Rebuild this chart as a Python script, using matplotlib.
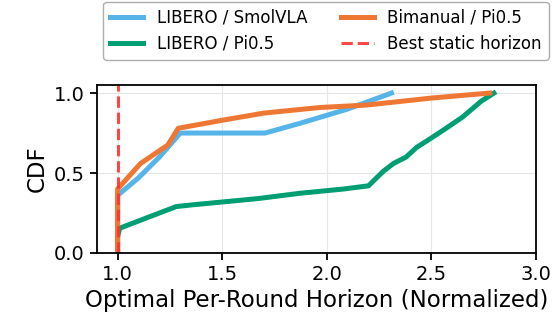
import matplotlib
matplotlib.use("Agg")
import matplotlib.pyplot as plt

# LIBERO / SmolVLA
smol_x = [1.0, 1.0, 1.0, 1.10, 1.20, 1.30, 1.50, 1.705, 1.87, 2.10, 2.31]
smol_y = [0.0, 0.20, 0.36, 0.47, 0.60, 0.75, 0.75, 0.75, 0.81, 0.90, 1.0]

# Bimanual / Pi0.5
bi_x = [1.0, 1.0, 1.0, 1.11, 1.24, 1.29, 1.50, 1.70, 1.97, 2.19, 2.51, 2.78]
bi_y = [0.0, 0.20, 0.40, 0.56, 0.675, 0.78, 0.83, 0.875, 0.91, 0.925, 0.97, 1.0]

# LIBERO / Pi0.5
pi_x = [1.0, 1.0, 1.01, 1.16, 1.28, 1.35, 1.67, 1.87, 2.08, 2.20, 2.27, 2.32, 2.38,
        2.43, 2.49, 2.56, 2.65, 2.74, 2.80]
pi_y = [0.0, 0.10, 0.155, 0.23, 0.29, 0.30, 0.34, 0.373, 0.40, 0.42, 0.51, 0.56, 0.60,
        0.66, 0.71, 0.77, 0.85, 0.95, 1.0]

best_static = 1.0

fig, ax = plt.subplots(figsize=(5.57, 3.26), dpi=100)
ax.plot(smol_x, smol_y, color="#56B4E9", lw=3.6, label="LIBERO / SmolVLA")
ax.plot(pi_x, pi_y, color="#009E73", lw=3.6, label="LIBERO / Pi0.5")
ax.plot(bi_x, bi_y, color="#EE7733", lw=3.6, label="Bimanual / Pi0.5")
ax.axvline(best_static, color="#FF3333", alpha=0.9, lw=2.2, ls="--",
           label="Best static horizon")

ax.set_xlim(0.9, 3.0)
ax.set_ylim(0.0, 1.05)
ax.set_xticks([1.0, 1.5, 2.0, 2.5, 3.0])
ax.set_yticks([0.0, 0.5, 1.0])
ax.grid(True, color="#e6e6e6", lw=0.8)
ax.set_axisbelow(True)
ax.tick_params(labelsize=14, width=1.3, length=5)
for s in ax.spines.values():
    s.set_linewidth(1.3)
ax.set_xlabel("Optimal Per-Round Horizon (Normalized)", fontsize=16.5)
ax.set_ylabel("CDF", fontsize=16.5)

ax.legend(ncol=2, loc="upper center", bbox_to_anchor=(326 / 557, 1 - 2 / 326),
          bbox_transform=fig.transFigure, borderaxespad=0, fontsize=12,
          frameon=True, edgecolor="#999999", fancybox=True)

fig.subplots_adjust(left=0.1736, right=0.9618, top=0.739, bottom=0.224)
fig.savefig("out.png", dpi=100)
